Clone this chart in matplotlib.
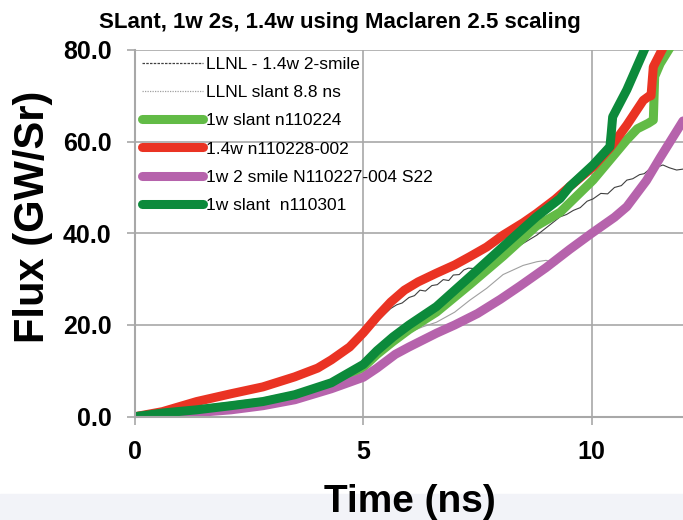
import matplotlib
matplotlib.use('Agg')
import matplotlib.pyplot as plt
from matplotlib.lines import Line2D
from matplotlib.patches import Rectangle

plt.rcParams['font.family'] = ['Liberation Sans', 'DejaVu Sans']

# LLNL - 1.4w 2-smile (thin dark trace)
llnl_2s_t = [0, 0.6, 1.35, 2.1, 2.8, 3.5, 4.3, 5.0, 5.3, 5.6, 5.73, 5.85, 6.0, 6.12, 6.24, 6.36,
             6.5, 6.62, 6.75, 6.87, 6.97, 7.1, 7.2, 7.3, 7.45, 7.6, 7.72, 7.85, 7.99, 8.3, 8.8,
             9.31, 9.45, 9.6, 9.75, 9.9, 10.03, 10.2, 10.35, 10.5, 10.65, 10.77, 10.9, 11.05,
             11.15, 11.28, 11.4, 11.56, 11.7, 11.86, 12.0]
llnl_2s_y = [0, 0.9, 3.0, 4.6, 6.1, 8.2, 11.8, 17.6, 20.8, 23.6, 24.4, 24.8, 26.0, 26.4, 27.6, 27.4,
             28.6, 28.8, 29.9, 29.7, 30.9, 31.0, 32.0, 32.4, 32.3, 33.6, 33.5, 34.6, 35.3, 36.6, 39.6,
             43.6, 44.1, 45.0, 45.6, 47.0, 47.5, 48.7, 48.6, 50.0, 50.4, 51.6, 51.9, 52.8, 53.0,
             54.1, 54.3, 54.9, 54.3, 53.8, 54.0]

# LLNL slant 8.8 ns (thin light trace)
llnl_sl_t = [0, 0.6, 1.35, 2.1, 2.8, 3.5, 4.3, 5.0, 5.5, 6.0, 6.3, 6.6, 7.0, 7.33, 7.7, 8.06,
             8.5, 8.8, 9.0, 9.2, 9.25]
llnl_sl_y = [0, 0.7, 1.4, 2.2, 3.1, 4.5, 7.0, 10.8, 14.6, 18.4, 19.6, 20.6, 22.8, 25.4, 28.0, 31.0,
             33.0, 33.8, 34.1, 33.6, 33.4]

# 1w slant n110224
g1_t = [0, 0.6, 1.35, 2.1, 2.8, 3.5, 4.3, 5.0, 5.3, 5.65, 6.0, 6.6, 7.33, 8.06, 8.79, 9.31,
        10.03, 10.77, 11.0, 11.24, 11.35, 11.38, 11.5, 11.71, 11.9]
g1_y = [0, 0.7, 1.4, 2.3, 3.2, 4.6, 7.0, 10.8, 13.6, 16.4, 19.0, 22.8, 28.8, 35.0, 41.6, 44.6,
        51.6, 60.4, 62.8, 64.0, 64.7, 74.2, 77.0, 80.4, 84.0]

# 1.4w n110228-002
red_t = [0, 0.6, 1.35, 2.1, 2.8, 3.5, 4.0, 4.3, 4.7, 5.0, 5.3, 5.6, 5.9, 6.2, 6.6, 7.0, 7.33,
         7.7, 8.06, 8.5, 8.79, 9.2, 9.52, 10.03, 10.4, 10.77, 11.13, 11.24, 11.3, 11.35, 11.56, 11.7]
red_y = [0, 1.1, 3.3, 5.0, 6.5, 8.7, 10.6, 12.4, 15.2, 18.3, 21.8, 25.0, 27.6, 29.4, 31.3, 33.1, 34.9,
         37.0, 39.6, 42.3, 44.3, 47.4, 50.2, 54.5, 58.6, 63.6, 69.0, 69.8, 70.0, 76.3, 80.4, 83.0]

# 1w 2 smile N110227-004 S22
pur_t = [0, 0.6, 1.35, 2.1, 2.8, 3.5, 4.3, 5.0, 5.3, 5.7, 6.0, 6.24, 6.6, 7.0, 7.5, 8.0, 8.43,
         9.0, 9.52, 10.0, 10.5, 10.77, 11.2, 11.5, 12.0]
pur_y = [0, 0.3, 0.9, 1.5, 2.4, 3.7, 6.1, 8.6, 10.6, 13.6, 15.2, 16.4, 18.2, 20.0, 22.5, 25.6, 28.5,
         32.5, 36.5, 40.0, 43.5, 45.8, 51.5, 56.5, 64.5]

# 1w slant n110301
g2_t = [0, 0.6, 1.35, 2.1, 2.8, 3.5, 4.3, 5.0, 5.3, 5.65, 6.0, 6.6, 7.33, 8.06, 8.79, 9.31,
        9.52, 10.03, 10.4, 10.43, 10.46, 10.77, 11.17, 11.3]
g2_y = [0, 0.8, 1.5, 2.4, 3.3, 4.8, 7.4, 11.4, 14.4, 17.4, 20.0, 24.0, 30.5, 37.1, 43.6, 47.6,
        50.2, 54.9, 58.9, 62.0, 65.4, 71.3, 80.4, 83.0]

fig = plt.figure(figsize=(6.83, 5.2), dpi=100)
# pale strip along the bottom edge
fig.patches.append(Rectangle((0, 0), 1, 26 / 520, transform=fig.transFigure,
                             color='#f2f3f8', zorder=-5))
ax = fig.add_axes([135 / 683, 1 - 416.7 / 520, 548 / 683, 366.8 / 520])

ax.plot(llnl_2s_t, llnl_2s_y, color='#404040', lw=0.8)
ax.plot(llnl_sl_t, llnl_sl_y, color='#a0a0a0', lw=0.8)
ax.plot(g1_t, g1_y, color='#62bb46', lw=6.5, solid_capstyle='round')
ax.plot(red_t, red_y, color='#ea3323', lw=6.5, solid_capstyle='round')
ax.plot(pur_t, pur_y, color='#b663ac', lw=6.5, solid_capstyle='round')
ax.plot(g2_t, g2_y, color='#0c8a3b', lw=6.5, solid_capstyle='round')

ax.set_xlim(0, 12)
ax.set_ylim(0, 80)
ax.set_xticks([0, 5, 10])
ax.set_yticks([0, 20, 40, 60, 80])
ax.set_xticklabels(['0', '5', '10'])
ax.set_yticklabels(['0.0', '20.0', '40.0', '60.0', '80.0'])
ax.grid(True, color='#a8a8a8', lw=1.2)
ax.set_axisbelow(True)
for s in ['top', 'right']:
    ax.spines[s].set_visible(False)
for s in ['left', 'bottom']:
    ax.spines[s].set_color('#a8a8a8')
    ax.spines[s].set_linewidth(1.5)
ax.tick_params(axis='both', colors='#a8a8a8', labelcolor='black', length=6, width=1.2)
ax.tick_params(axis='y', pad=11)
ax.tick_params(axis='x', pad=11)
for lab in ax.get_xticklabels() + ax.get_yticklabels():
    lab.set_fontsize(18)
    lab.set_fontweight('bold')

ax.set_xlabel('Time (ns)', fontsize=28, fontweight='bold')
ax.xaxis.set_label_coords(0.501, -0.1835)
ax.set_ylabel('Flux (GW/Sr)', fontsize=30, fontweight='bold')
ax.yaxis.set_label_coords(-0.15, 0.545)

fig.text(340 / 683, 1 - 22.5 / 520, 'SLant, 1w 2s, 1.4w using Maclaren 2.5 scaling',
         fontsize=16, fontweight='bold', ha='center', va='center')

handles = [
    Line2D([], [], color='#404040', lw=0.9, ls=(0, (2, 1))),
    Line2D([], [], color='#a0a0a0', lw=0.9, ls=(0, (1, 1))),
    Line2D([], [], color='#62bb46', lw=6.5, solid_capstyle='round'),
    Line2D([], [], color='#ea3323', lw=6.5, solid_capstyle='round'),
    Line2D([], [], color='#b663ac', lw=6.5, solid_capstyle='round'),
    Line2D([], [], color='#0c8a3b', lw=6.5, solid_capstyle='round'),
]
labels = ['LLNL - 1.4w 2-smile', 'LLNL slant 8.8 ns', '1w slant n110224',
          '1.4w n110228-002', '1w 2 smile N110227-004 S22', '1w slant  n110301']
ax.legend(handles, labels, loc='upper left', bbox_to_anchor=(0.0, 1.0), frameon=False,
          fontsize=12.5, handlelength=3.5, handletextpad=0.2, labelspacing=0.75,
          borderaxespad=0.2, borderpad=0.2)

fig.savefig('out.png', dpi=100)
